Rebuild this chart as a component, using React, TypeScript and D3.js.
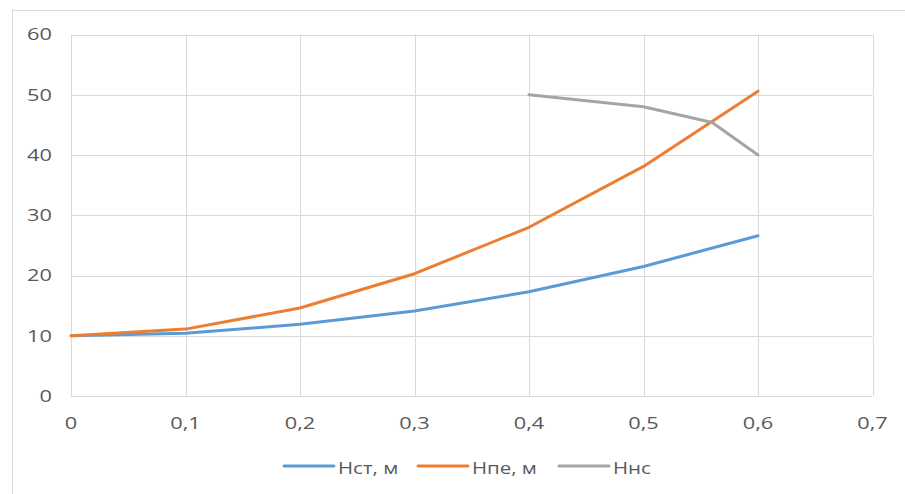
import React from "react";
import * as d3 from "d3";

const xValues = [0, 0.1, 0.2, 0.3, 0.4, 0.5, 0.6];
const hst = [10, 10.4, 11.9, 14.1, 17.3, 21.5, 26.6];
const hpe = [10, 11.1, 14.6, 20.3, 28.0, 38.1, 50.6];
const hnsX = [0.4, 0.5, 0.56, 0.6];
const hnsY = [50, 48, 45.4, 40];
const yTicks = [0, 10, 20, 30, 40, 50, 60];
const xTicks = [0, 0.1, 0.2, 0.3, 0.4, 0.5, 0.6, 0.7];
const seriesNames = ["Hст, м", "Hпе, м", "Hнс"];
const colors = ["#5B9BD5", "#ED7D31", "#A5A5A5"];

export default function App() {
  const W = 905, H = 494;
  const left = 71, right = 872.5, top = 34.5, bottom = 396;
  const x = d3.scaleLinear().domain([0, 0.7]).range([left, right]);
  const y = d3.scaleLinear().domain([0, 60]).range([bottom, top]);
  const line = d3.line<[number, number]>().x(d => x(d[0])).y(d => y(d[1]));
  const series: [number, number][][] = [
    xValues.map((v, i) => [v, hst[i]]),
    xValues.map((v, i) => [v, hpe[i]]),
    hnsX.map((v, i) => [v, hnsY[i]]),
  ];
  const fmt = (v: number) => String(Math.round(v * 10) / 10).replace(".", ",");
  const font = "'Open Sans', sans-serif";
  const sx = 1.28;
  const legendX = [284, 418, 559];
  return (
    <svg width={W} height={H} style={{ position: "absolute", left: 0, top: 0, background: "#fff" }}>
      <rect x={0} y={0} width={W} height={H} fill="#fff" />
      <line x1={12} y1={10.5} x2={W} y2={10.5} stroke="#d9d9d9" />
      <line x1={12.5} y1={10} x2={12.5} y2={H} stroke="#d9d9d9" />
      {yTicks.map(t => (
        <line key={"gy" + t} x1={left} x2={right} y1={Math.round(y(t)) + 0.5} y2={Math.round(y(t)) + 0.5} stroke="#d9d9d9" strokeWidth={1} />
      ))}
      {xTicks.map(t => (
        <line key={"gx" + t} x1={Math.round(x(t)) + 0.5} x2={Math.round(x(t)) + 0.5} y1={top} y2={bottom} stroke="#d9d9d9" strokeWidth={1} />
      ))}
      {yTicks.map(t => (
        <text key={"ty" + t} transform={`translate(52,${y(t)}) scale(${sx},1)`} dy="0.35em" textAnchor="end" fontFamily={font} fontSize={17} fill="#595959">{t}</text>
      ))}
      {xTicks.map(t => (
        <text key={"tx" + t} transform={`translate(${x(t)},423) scale(${sx},1)`} dy="0.35em" textAnchor="middle" fontFamily={font} fontSize={17} fill="#595959">{fmt(t)}</text>
      ))}
      {series.map((s, i) => (
        <path key={"s" + i} d={line(s) || ""} fill="none" stroke={colors[i]} strokeWidth={3} strokeLinejoin="round" strokeLinecap="round" />
      ))}
      {seriesNames.map((n, i) => (
        <g key={"lg" + i}>
          <line x1={legendX[i]} x2={legendX[i] + 50} y1={466} y2={466} stroke={colors[i]} strokeWidth={3} strokeLinecap="round" />
          <text transform={`translate(${legendX[i] + 54},468) scale(${sx},1)`} dy="0.35em" fontFamily={font} fontSize={16} fill="#595959">{n}</text>
        </g>
      ))}
    </svg>
  );
}
